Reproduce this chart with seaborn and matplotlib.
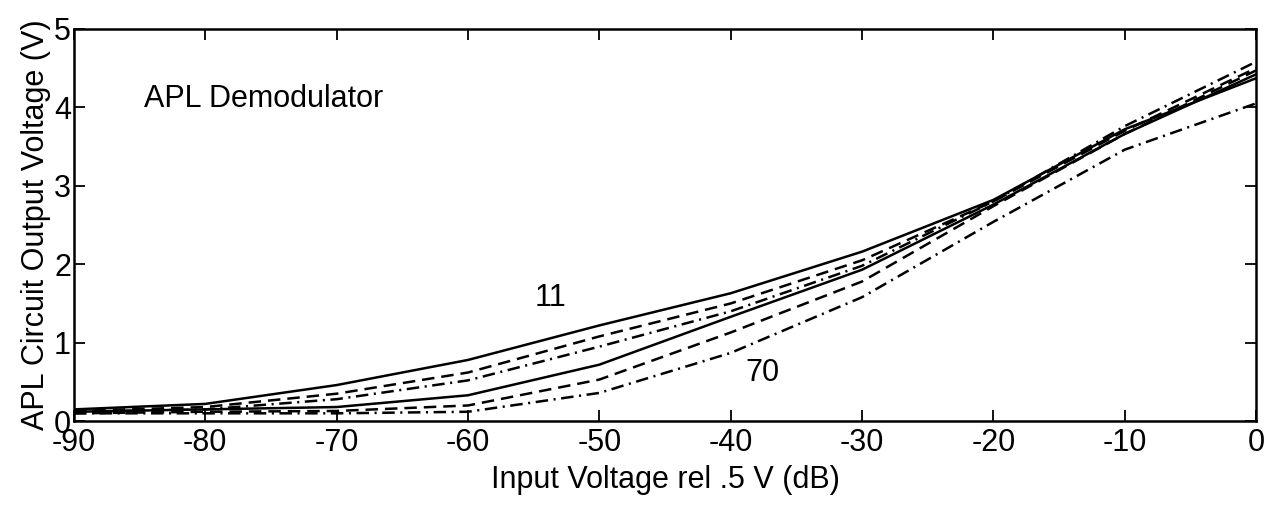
import pandas as pd
import matplotlib.pyplot as plt
import seaborn as sns


# =========================
# Data
# =========================

input_db = [-90, -80, -70, -60, -50, -40, -30, -20, -10, 0]

curve_11 = [0.15, 0.22, 0.46, 0.78, 1.22, 1.63, 2.16, 2.82, 3.72, 4.37]
curve_2 = [0.13, 0.18, 0.35, 0.62, 1.08, 1.50, 2.05, 2.80, 3.70, 4.50]
curve_3 = [0.12, 0.15, 0.28, 0.52, 0.95, 1.40, 1.98, 2.80, 3.76, 4.58]
curve_4 = [0.12, 0.15, 0.18, 0.33, 0.72, 1.33, 1.93, 2.76, 3.66, 4.42]
curve_5 = [0.10, 0.12, 0.13, 0.20, 0.53, 1.13, 1.78, 2.74, 3.66, 4.47]
curve_70 = [0.10, 0.10, 0.10, 0.12, 0.36, 0.87, 1.58, 2.54, 3.46, 4.05]

curve_names = ["11", "c2", "c3", "c4", "c5", "70"]
curve_styles = ["solid", "dashed", "dashdot", "solid", "dashed", "dashdot"]

x_ticks = [-90, -80, -70, -60, -50, -40, -30, -20, -10, 0]
y_ticks = [0, 1, 2, 3, 4, 5]


df = pd.DataFrame(
    {
        "db": input_db * 6,
        "volt": curve_11 + curve_2 + curve_3 + curve_4 + curve_5 + curve_70,
        "curve": [n for n in curve_names for _ in input_db],
    }
)


# =========================
# Style
# =========================

sns.set_style("ticks")

plt.rcParams["font.family"] = ["Liberation Sans", "DejaVu Sans"]
plt.rcParams["font.size"] = 22
plt.rcParams["lines.scale_dashes"] = False
plt.rcParams["axes.unicode_minus"] = False
plt.rcParams["text.color"] = "black"
plt.rcParams["axes.labelcolor"] = "black"
plt.rcParams["xtick.color"] = "black"
plt.rcParams["ytick.color"] = "black"

dash_map = {
    "solid": (None, None),
    "dashed": (9, 5),
    "dashdot": (9, 4, 1.5, 4),
}


# =========================
# Plot
# =========================

fig = plt.figure(figsize=(12.74, 5.05), dpi=100)
ax = fig.add_axes([0.058, 0.166, 0.928, 0.777])

for name, style in zip(curve_names, curve_styles):
    sub = df[df.curve == name]
    sns.lineplot(
        data=sub,
        x="db",
        y="volt",
        color="black",
        linewidth=1.8,
        ax=ax,
    )
    line = ax.lines[-1]
    if style != "solid":
        line.set_dashes(dash_map[style])

ax.set_xlim(-90, 0)
ax.set_ylim(0, 5)

ax.set_xticks(x_ticks)
ax.set_yticks(y_ticks)

ax.tick_params(
    direction="in",
    length=8,
    width=1.3,
    top=True,
    right=True,
    labelsize=22,
    pad=2,
)
ax.tick_params(axis="x", pad=5)

for side in ax.spines.values():
    side.set_linewidth(1.8)
    side.set_color("black")

ax.set_xlabel("Input Voltage rel .5 V (dB)", fontsize=22, labelpad=5)
ax.set_ylabel("APL Circuit Output Voltage (V)", fontsize=22, labelpad=2)

ax.text(-84.7, 4.1, "APL Demodulator", fontsize=22, va="center", ha="left")
ax.text(-53.7, 1.57, "11", fontsize=22, va="center", ha="center")
ax.text(-37.6, 0.62, "70", fontsize=22, va="center", ha="center")

plt.savefig("out.png", dpi=100)
